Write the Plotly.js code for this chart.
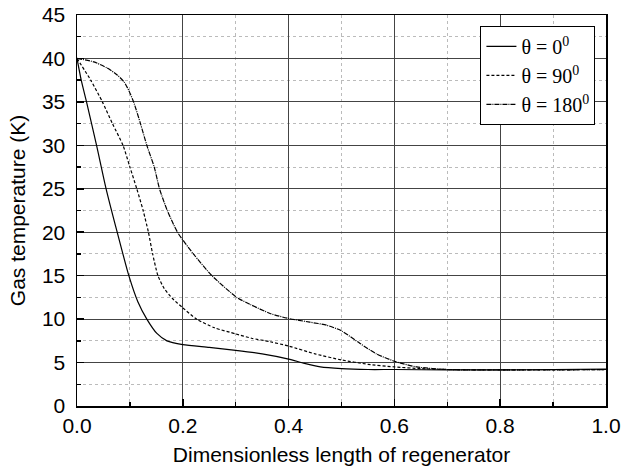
<!DOCTYPE html>
<html>
<head>
<meta charset="utf-8">
<script src="https://cdn.plot.ly/plotly-3.0.1.min.js"></script>
<style>html,body{margin:0;padding:0;background:#fff;}#chart{width:631px;height:466px;}</style>
</head>
<body>
<div id="chart"></div>
<script>
// θ = 0°
const x0 = [0, 0.008, 0.018, 0.037, 0.055, 0.076, 0.098, 0.115, 0.132, 0.151, 0.17, 0.2, 0.25, 0.3, 0.35, 0.4, 0.43, 0.46, 0.5, 0.55, 0.6, 0.7, 0.8, 0.9, 1.0];
const y0 = [40, 37.5, 35, 30, 25, 20, 15, 12, 10, 8.35, 7.5, 7.07, 6.75, 6.4, 6.0, 5.4, 4.9, 4.5, 4.3, 4.2, 4.2, 4.15, 4.15, 4.2, 4.25];
// θ = 90°
const x90 = [0, 0.026, 0.048, 0.067, 0.087, 0.100, 0.113, 0.125, 0.135, 0.143, 0.153, 0.165, 0.18, 0.2, 0.226, 0.26, 0.3, 0.33, 0.365, 0.4, 0.45, 0.5, 0.55, 0.6, 0.65, 0.7, 0.8, 0.9, 1.0];
const y90 = [40, 37.5, 35, 32.5, 30, 27.5, 25, 22.5, 20, 17.5, 15, 13.5, 12.4, 11.3, 10, 9.0, 8.3, 7.8, 7.4, 6.9, 6.0, 5.3, 4.8, 4.5, 4.3, 4.2, 4.15, 4.15, 4.2];
// θ = 180°
const x180 = [0, 0.032, 0.057, 0.076, 0.089, 0.098, 0.107, 0.120, 0.132, 0.146, 0.156, 0.170, 0.19, 0.22, 0.255, 0.302, 0.327, 0.365, 0.4, 0.44, 0.472, 0.5, 0.535, 0.566, 0.6, 0.642, 0.7, 0.8, 0.9, 1.0];
const y180 = [40, 39.6, 38.9, 38.1, 37.3, 36.3, 35, 32.5, 30, 27.5, 25, 22.6, 20, 17.5, 15, 12.5, 11.7, 10.65, 10.07, 9.65, 9.3, 8.65, 7.2, 6.0, 5.15, 4.5, 4.2, 4.15, 4.15, 4.2];

const names = ['θ = 0<sup>0</sup>', 'θ = 90<sup>0</sup>', 'θ = 180<sup>0</sup>'];
const xTickVals = [0, 0.2, 0.4, 0.6, 0.8, 1.0];
const xTickText = ['0.0', '0.2', '0.4', '0.6', '0.8', '1.0'];

const lineBase = {type: 'scatter', mode: 'lines'};
const traces = [
  Object.assign({}, lineBase, {x: x0, y: y0, name: names[0], legendgroup: 'a', line: {color: '#000', width: 1.2, shape: 'spline', smoothing: 0.6}}),
  Object.assign({}, lineBase, {x: x90, y: y90, name: names[1], legendgroup: 'b', line: {color: '#000', width: 1.2, dash: '3px,2px', shape: 'spline', smoothing: 0.6}}),
  Object.assign({}, lineBase, {x: x180, y: y180, name: names[2], legendgroup: 'c', line: {color: '#000', width: 1.2, dash: '5px,1px,1px,1px', shape: 'spline', smoothing: 0.6}})
];

const axisFont = {family: 'Liberation Sans, Arial, sans-serif', size: 21, color: '#000'};
const layout = {
  width: 631, height: 466,
  margin: {l: 77, r: 25, t: 15, b: 60},
  paper_bgcolor: '#fff', plot_bgcolor: '#fff',
  showlegend: true,
  legend: {
    x: 0.98, y: 0.972, xanchor: 'right', yanchor: 'top',
    bordercolor: '#000', borderwidth: 1, bgcolor: '#fff',
    font: {family: 'Liberation Serif, Times New Roman, serif', size: 20, color: '#000'},
    tracegroupgap: 0
  },
  xaxis: {
    range: [0, 1], tickvals: xTickVals, ticktext: xTickText,
    showline: true, linecolor: '#000', linewidth: 1.5, mirror: true,
    ticks: 'inside', ticklen: 7, tickwidth: 1.5, tickcolor: '#000',
    ticklabelstandoff: 0,
    showgrid: true, gridcolor: '#444', gridwidth: 1,
    zeroline: false,
    tickfont: axisFont,
    minor: {dtick: 0.1, ticks: 'inside', ticklen: 4, tickcolor: '#000', showgrid: true, gridcolor: '#bbb', griddash: 'dot', gridwidth: 1},
    title: {text: 'Dimensionless length of regenerator', font: axisFont}
  },
  yaxis: {
    range: [0, 45], dtick: 5,
    showline: true, linecolor: '#000', linewidth: 1.5, mirror: true,
    ticks: 'inside', ticklen: 7, tickwidth: 1.5, tickcolor: '#000',
    ticklabelstandoff: 6,
    showgrid: true, gridcolor: '#444', gridwidth: 1,
    zeroline: false,
    tickfont: axisFont,
    minor: {dtick: 2.5, ticks: 'inside', ticklen: 4, tickcolor: '#000', showgrid: true, gridcolor: '#bbb', griddash: 'dot', gridwidth: 1},
    title: {text: 'Gas temperature (K)', font: axisFont}
  }
};

Plotly.newPlot('chart', traces, layout, {displayModeBar: false, staticPlot: true});
</script>
</body>
</html>
